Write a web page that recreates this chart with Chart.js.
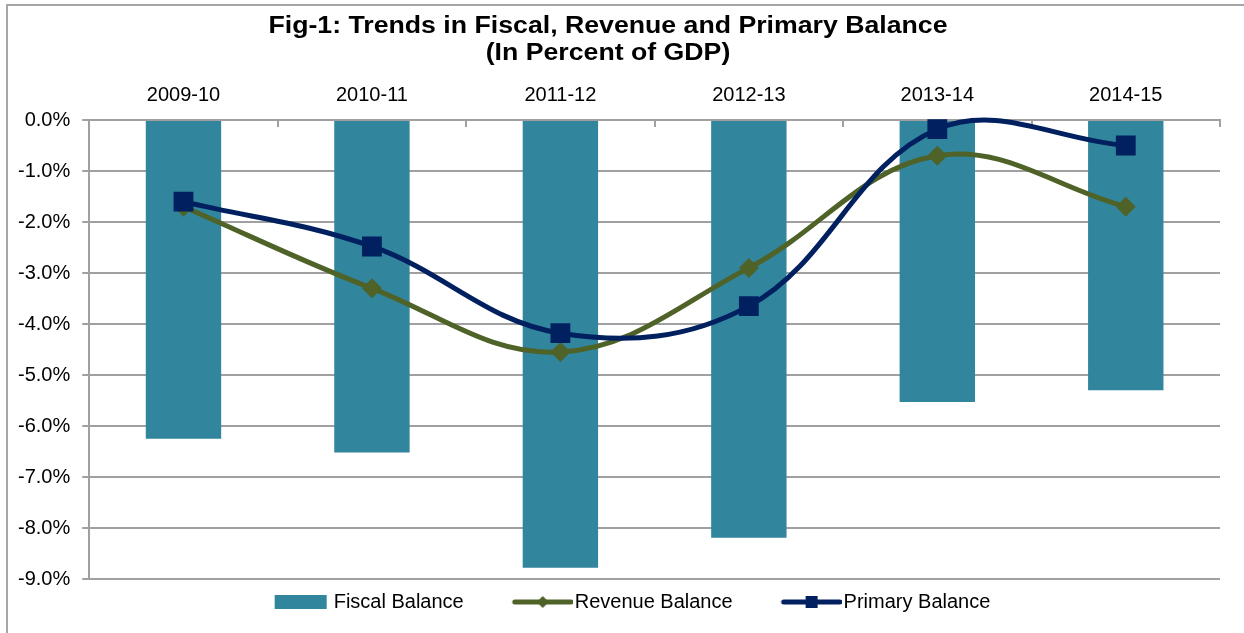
<!DOCTYPE html>
<html>
<head>
<meta charset="utf-8">
<script src="https://cdn.jsdelivr.net/npm/chart.js@4.4.0/dist/chart.umd.min.js"></script>
<style>
    html, body { margin: 0; padding: 0; background: #fff; overflow: hidden; }
    #frame { position: absolute; left: 6px; top: 4px; width: 1400px; height: 800px; border: 2px solid #a6a6a6; }
    #fig { position: absolute; left: 0; top: 0; }
</style>
</head>
<body>
<div id="frame"></div>
<canvas id="fig" width="1244" height="633"></canvas>
<script>
const years = ["2009-10", "2010-11", "2011-12", "2012-13", "2013-14", "2014-15"];
const fiscalBalance = [-6.25, -6.52, -8.78, -8.19, -5.53, -5.3];
const revenueBalance = [-1.7, -3.3, -4.55, -2.9, -0.7, -1.7];
const primaryBalance = [-1.6, -2.48, -4.18, -3.65, -0.18, -0.5];
const yTicks = [0, -1, -2, -3, -4, -5, -6, -7, -8, -9];

const titleLines = ["Fig-1: Trends in Fiscal, Revenue and Primary Balance", "(In Percent of GDP)"];

const FONT = "'Liberation Sans', Arial, sans-serif";
const TEAL = '#31859c';
const OLIVE = '#4f6228';
const NAVY = '#002060';

// legend pictures like the excel ones; the blank left part gives the gap between items
function legendIcon(kind) {
    const c = document.createElement('canvas');
    c.width = 104;
    c.height = 16;
    const g = c.getContext('2d');
    if (kind === 'bar') {
        g.fillStyle = TEAL;
        g.fillRect(47, 1, 52, 14);
    } else {
        const col = kind === 'diamond' ? OLIVE : NAVY;
        g.strokeStyle = col;
        g.fillStyle = col;
        g.lineWidth = 5;
        g.lineCap = 'round';
        g.beginPath();
        g.moveTo(46, 8);
        g.lineTo(102, 8);
        g.stroke();
        g.beginPath();
        if (kind === 'diamond') {
            g.moveTo(74, 2); g.lineTo(80, 8); g.lineTo(74, 14); g.lineTo(68, 8);
        } else {
            g.rect(68, 2, 12, 12);
        }
        g.fill();
    }
    return c;
}
const icons = [legendIcon('bar'), legendIcon('diamond'), legendIcon('square')];

const titlePlugin = {
    id: 'figTitle',
    afterDraw(chart) {
        const ctx = chart.ctx;
        ctx.save();
        ctx.fillStyle = '#000';
        ctx.font = 'bold 23px ' + FONT;
        ctx.textAlign = 'center';
        ctx.textBaseline = 'middle';
        // the picture is a bit wider than the font
        [27, 54].forEach((y, i) => {
            ctx.save();
            ctx.translate(608, y);
            ctx.scale(1.16, 1);
            ctx.fillText(titleLines[i], 0, 0);
            ctx.restore();
        });
        ctx.restore();
    }
};

const ctx = document.getElementById('fig').getContext('2d');
new Chart(ctx, {
    data: {
        labels: years,
        datasets: [
            {
                type: 'bar',
                label: 'Fiscal Balance',
                data: fiscalBalance,
                backgroundColor: TEAL,
                barPercentage: 0.4,
                categoryPercentage: 1,
                order: 3
            },
            {
                type: 'line',
                label: 'Revenue Balance',
                data: revenueBalance,
                borderColor: OLIVE,
                backgroundColor: OLIVE,
                borderWidth: 5,
                tension: 0.38,
                capBezierPoints: false,
                pointStyle: 'rectRot',
                pointRadius: 10,
                pointBorderWidth: 0,
                clip: 12,
                order: 2
            },
            {
                type: 'line',
                label: 'Primary Balance',
                data: primaryBalance,
                borderColor: NAVY,
                backgroundColor: NAVY,
                borderWidth: 5,
                tension: 0.38,
                capBezierPoints: false,
                pointStyle: 'rect',
                pointRadius: 14,
                pointBorderWidth: 0,
                clip: 12,
                order: 1
            }
        ]
    },
    options: {
        responsive: false,
        animation: false,
        layout: {
            padding: { left: 6, right: 24, top: 63, bottom: 11 }
        },
        scales: {
            x: {
                position: 'top',
                offset: true,
                grid: {
                    offset: true,
                    drawOnChartArea: false,
                    color: '#a0a0a0',
                    lineWidth: 2,
                    tickLength: -7
                },
                border: { color: '#a0a0a0', width: 2 },
                ticks: {
                    color: '#000',
                    font: { family: FONT, size: 20 },
                    padding: 20
                }
            },
            y: {
                min: -9,
                max: 0,
                afterBuildTicks: (axis) => {
                    axis.ticks = yTicks.map(v => ({ value: v }));
                },
                grid: {
                    color: '#a0a0a0',
                    lineWidth: 2,
                    tickLength: 7
                },
                border: { color: '#a0a0a0', width: 2 },
                ticks: {
                    color: '#000',
                    font: { family: FONT, size: 20 },
                    padding: 12,
                    callback: (v) => v.toFixed(1) + '%'
                }
            }
        },
        plugins: {
            tooltip: { enabled: false },
            legend: {
                position: 'bottom',
                labels: {
                    usePointStyle: true,
                    pointStyleWidth: 88,
                    boxHeight: 14,
                    padding: 13,
                    color: '#000',
                    font: { family: FONT, size: 20 },
                    generateLabels: (chart) => chart.data.datasets.map((ds, i) => ({
                        text: ds.label,
                        pointStyle: icons[i],
                        datasetIndex: i,
                        hidden: false,
                        fillStyle: ds.backgroundColor,
                        strokeStyle: ds.backgroundColor,
                        lineWidth: 0,
                        fontColor: '#000'
                    }))
                }
            }
        }
    },
    plugins: [titlePlugin]
});
</script>
</body>
</html>
